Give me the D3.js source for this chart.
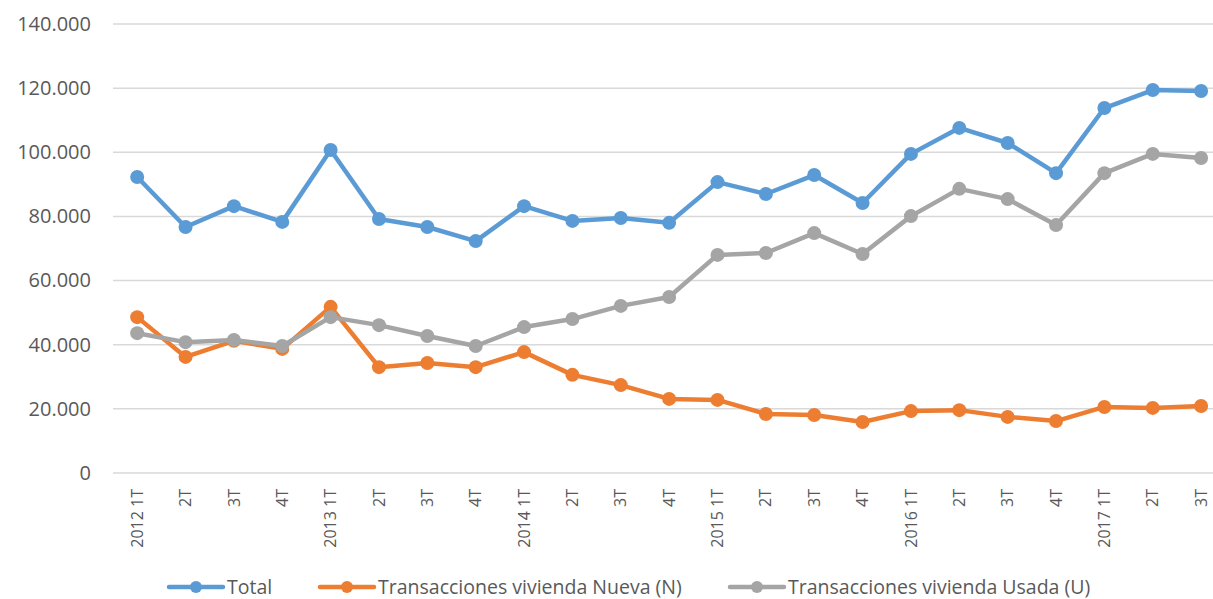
<!DOCTYPE html>
<html>
<head>
<meta charset="utf-8">
<script src="https://cdn.jsdelivr.net/npm/d3@7"></script>
<style>
  body { margin: 0; background: #fff; }
  text { font-family: "Open Sans", sans-serif; fill: #595959; }
</style>
</head>
<body>
<div id="chart"></div>
<script>
var quarters = ["2012 1T","2T","3T","4T","2013 1T","2T","3T","4T","2014 1T","2T","3T","4T",
                "2015 1T","2T","3T","4T","2016 1T","2T","3T","4T","2017 1T","2T","3T"];
var total = [92300,76700,83200,78300,100700,79200,76700,72300,83200,78600,79500,78000,
             90700,87000,92900,84200,99500,107600,102900,93500,113800,119400,119100];
var nueva = [48600,36200,41200,38700,51800,33000,34300,33000,37700,30600,27400,23100,
             22800,18400,18100,15900,19300,19600,17500,16200,20600,20300,20900];
var usada = [43600,40800,41500,39600,48600,46100,42700,39600,45500,48000,52100,54900,
             68000,68600,74800,68300,80100,88600,85400,77300,93500,99500,98200];
var yTicks = [0,20000,40000,60000,80000,100000,120000,140000];

var series = [
  {name: "Total", values: total, color: "#5b9bd5"},
  {name: "Transacciones vivienda Nueva (N)", values: nueva, color: "#ed7d31"},
  {name: "Transacciones vivienda Usada (U)", values: usada, color: "#a5a5a5"}
];

var width = 1213, height = 599;
var plotLeft = 113, plotTop = 24, plotBottom = 473;

var svg = d3.select("#chart").append("svg")
  .attr("width", width)
  .attr("height", height);

var x = d3.scaleBand()
  .domain(d3.range(quarters.length))
  .range([plotLeft, plotLeft + quarters.length * 48.36]);

var y = d3.scaleLinear()
  .domain([0, 140000])
  .range([plotBottom, plotTop]);

var fmt = function(v) { return d3.format(",")(v).replace(/,/g, "."); };

// gridlines
svg.append("g").selectAll("line")
  .data(yTicks)
  .enter().append("line")
  .attr("x1", plotLeft)
  .attr("x2", width)
  .attr("y1", function(d) { return y(d); })
  .attr("y2", function(d) { return y(d); })
  .attr("stroke", "#d9d9d9")
  .attr("stroke-width", 1.5);

// y axis labels
var yAxis = svg.append("g")
  .attr("transform", "translate(" + (plotLeft - 22) + ",0)")
  .call(d3.axisLeft(y).tickValues(yTicks).tickSize(0).tickFormat(fmt));
yAxis.select(".domain").remove();
yAxis.selectAll("text")
  .attr("x", 0)
  .style("font-size", "20px")
  .style("font-family", "'Open Sans', sans-serif")
  .attr("fill", "#595959");

// x axis labels
var xAxis = svg.append("g")
  .attr("transform", "translate(0," + plotBottom + ")")
  .call(d3.axisBottom(x).tickSize(0).tickFormat(function(i) { return quarters[i]; }));
xAxis.select(".domain").remove();
xAxis.selectAll("text")
  .attr("transform", "rotate(-90)")
  .attr("x", -16)
  .attr("y", 0)
  .attr("dy", "0.35em")
  .style("text-anchor", "end")
  .style("font-size", "16px")
  .style("font-family", "'Open Sans', sans-serif")
  .attr("fill", "#595959");

var line = d3.line()
  .x(function(d, i) { return x(i) + x.bandwidth() / 2; })
  .y(function(d) { return y(d); });

var g = svg.append("g");
series.forEach(function(s) {
  g.append("path")
    .datum(s.values)
    .attr("d", line)
    .attr("fill", "none")
    .attr("stroke", s.color)
    .attr("stroke-width", 4.5)
    .attr("stroke-linejoin", "round");
  g.selectAll(null)
    .data(s.values)
    .enter().append("circle")
    .attr("cx", function(d, i) { return x(i) + x.bandwidth() / 2; })
    .attr("cy", function(d) { return y(d); })
    .attr("r", 7)
    .attr("fill", s.color);
});

// legend
var legendX = [169, 320, 730];
var legend = svg.append("g").attr("transform", "translate(0,587)");
series.forEach(function(s, i) {
  var lg = legend.append("g").attr("transform", "translate(" + legendX[i] + ",0)");
  lg.append("line")
    .attr("x1", 0).attr("x2", 54)
    .attr("stroke", s.color)
    .attr("stroke-width", 4.5)
    .attr("stroke-linecap", "round");
  lg.append("circle")
    .attr("cx", 27).attr("r", 6)
    .attr("fill", s.color);
  lg.append("text")
    .attr("x", 58)
    .attr("dy", "0.35em")
    .style("font-size", "19.5px")
    .text(s.name);
});
</script>
</body>
</html>
